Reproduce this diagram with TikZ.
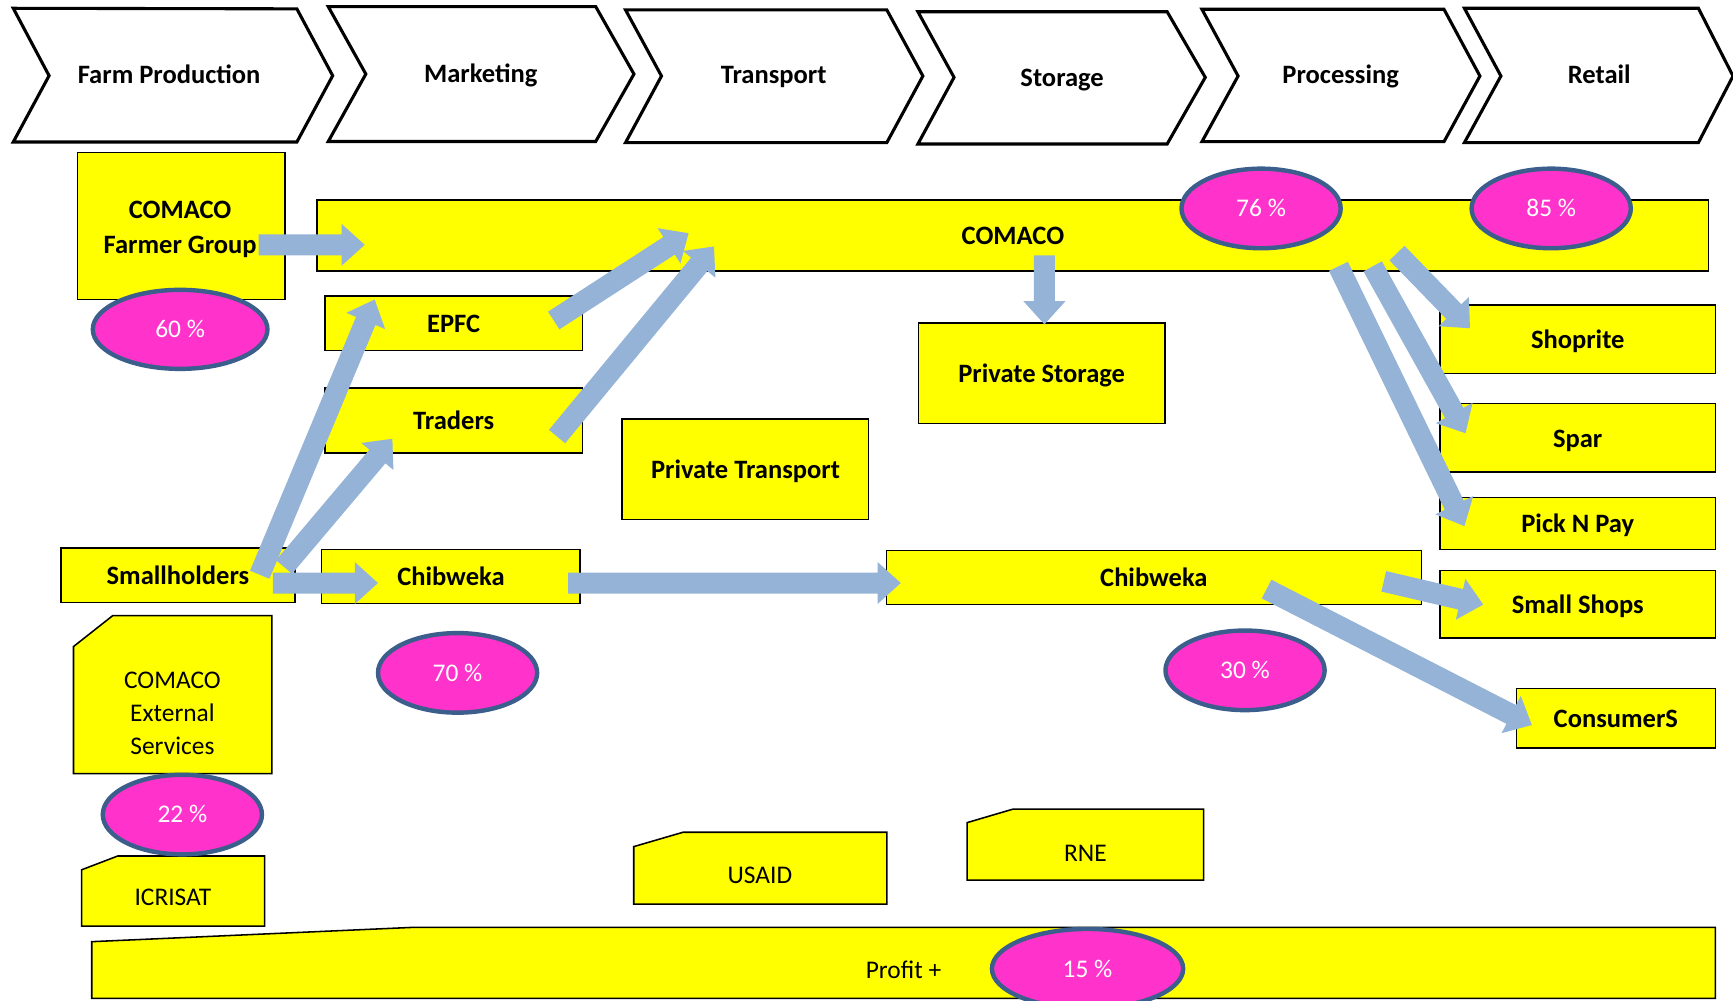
\documentclass[tikz,border=0pt]{standalone}
\usepackage{fontspec}
\setmainfont{Carlito}
\usetikzlibrary{calc,shapes.geometric}
\definecolor{boxyellow}{HTML}{FFFF00}
\definecolor{pctpink}{HTML}{FF33CC}
\definecolor{pctedge}{HTML}{3B5E8C}
\definecolor{flowblue}{HTML}{95B3D7}
\newcommand\bkShaft{9.5pt}
\newcommand\bkHead{19pt}
\newcommand\bkLen{21pt}
\newcommand\blockarrow[2]{%
  \path ($(#2)!\bkLen!(#1)$) coordinate (bkbase);
  \fill[flowarrow] ($(#1)!\bkShaft!90:(#2)$) -- ($(bkbase)!\bkShaft!90:(#2)$) -- ($(bkbase)!\bkHead!90:(#2)$) -- (#2) -- ($(bkbase)!\bkHead!-90:(#2)$) -- ($(bkbase)!\bkShaft!-90:(#2)$) -- ($(#1)!\bkShaft!-90:(#2)$) -- cycle;}
\tikzset{
  stage/.style={draw=black, line width=2.8pt, fill=white, line join=miter},
  stagelabel/.style={font=\fontsize{24}{28}\selectfont\bfseries, inner sep=0pt, text height=21pt, text depth=3pt},
  actor/.style={draw=black, line width=1.4pt, fill=boxyellow, inner sep=0pt, font=\fontsize{24}{31}\selectfont\bfseries, align=center, text height=20pt, text depth=3pt},
  snipbox/.style={draw=black, line width=1.4pt, fill=boxyellow, line join=miter},
  sniplabel/.style={font=\fontsize{23}{29.5}\selectfont, align=center, inner sep=0pt, text height=19pt, text depth=4pt},
  pct/.style={ellipse, draw=pctedge, line width=4pt, fill=pctpink, text=white, inner sep=0pt, font=\fontsize{23}{27}\selectfont, minimum width=144pt, minimum height=72pt, text height=19pt, text depth=4pt},
  flowarrow/.style={fill=flowblue},
}
\begin{document}
\begin{tikzpicture}[x=1pt,y=-1pt]
\useasboundingbox (0,0) rectangle (1568,905);
\clip (0,0) rectangle (1568,905);
\fill[white] (0,0) rectangle (1568,905);

% value chain stages
\draw[stage] (12,7.5) -- (268.6,8) -- (301,68.5) -- (268.6,128.5) -- (12,128.5) -- (44.4,68.5) -- cycle;
\node[stagelabel] (farm) at (153,67) {Farm Production};
\draw[stage] (297,6) -- (539,6) -- (573.6,67) -- (539,128) -- (297,128) -- (331,67) -- cycle;
\node[stagelabel] (mkt) at (435,66) {Marketing};
\draw[stage] (566,9) -- (802.4,9) -- (835,68.8) -- (802.4,129) -- (566,129) -- (598.5,68.8) -- cycle;
\node[stagelabel] (trans) at (700,67) {Transport};
\draw[stage] (830.5,10.6) -- (1056,10.6) -- (1090.5,70) -- (1056,130.3) -- (830.5,130.3) -- (863.2,70) -- cycle;
\node[stagelabel] (stor) at (961,69) {Storage};
\draw[stage] (1087.5,8.4) -- (1306.5,8.4) -- (1339,68.8) -- (1306.5,128.2) -- (1087.5,128.2) -- (1120.2,68.8) -- cycle;
\node[stagelabel] (proc) at (1213,67) {Processing};
\draw[stage] (1325,7.5) -- (1536.7,7.5) -- (1568,68.8) -- (1536.7,129) -- (1325,129) -- (1358,68.8) -- cycle;
\node[stagelabel] (ret) at (1447,67) {Retail};

% actors
\node[actor, minimum width=188pt, minimum height=133pt] (fg) at (164,204.5) {};
\node[font=\fontsize{24}{31}\selectfont\bfseries, align=center, inner sep=0pt] (fgtext) at (163,207.5) {COMACO\\Farmer Group};
\node[actor, minimum width=1259pt, minimum height=64pt] (comaco) at (916.5,213) {COMACO};
\node[actor, minimum width=233pt, minimum height=49pt] (epfc) at (410.5,292.5) {EPFC};
\node[actor, minimum width=233pt, minimum height=59pt] (traders) at (410.5,380.5) {Traders};
\node[actor, minimum width=223pt, minimum height=91pt] (ptrans) at (674.5,424.5) {Private Transport};
\node[actor, minimum width=223pt, minimum height=91pt] (pstor) at (942.5,337.5) {Private Storage};
\node[actor, minimum width=212pt, minimum height=49pt] (small) at (161,520.5) {Smallholders};
\node[actor, minimum width=234pt, minimum height=49pt] (chibA) at (408,521.5) {Chibweka};
\node[actor, minimum width=484pt, minimum height=49pt] (chibB) at (1044,522.5) {Chibweka};
\node[actor, minimum width=249pt, minimum height=62pt] (shoprite) at (1427.5,307) {Shoprite};
\node[actor, minimum width=249pt, minimum height=62pt] (spar) at (1427.5,396) {Spar};
\node[actor, minimum width=249pt, minimum height=47pt] (pnp) at (1427.5,473.5) {Pick N Pay};
\node[actor, minimum width=249pt, minimum height=61pt] (sshops) at (1427.5,546.5) {Small Shops};
\node[actor, minimum width=180pt, minimum height=54pt] (cons) at (1462,650) {ConsumerS};

% snipped-corner boxes
\draw[snipbox] (66.5,585) -- (102,557) -- (246,557) -- (246,700) -- (66.5,700) -- cycle;
\node[sniplabel, text height={}, text depth={}] (ext) at (156,645.5) {COMACO\\External\\Services};
\draw[snipbox] (73.8,787) -- (106.5,774.5) -- (239.5,774.5) -- (239.5,838) -- (73.8,838) -- cycle;
\node[sniplabel] (icrisat) at (156.5,812) {ICRISAT};
\draw[snipbox] (573.4,766) -- (618,753) -- (802.5,753) -- (802.5,818) -- (573.4,818) -- cycle;
\node[sniplabel] (usaid) at (687.5,791.5) {USAID};
\draw[snipbox] (875,744.3) -- (916.8,732) -- (1089,732) -- (1089,796.3) -- (875,796.3) -- cycle;
\node[sniplabel] (rne) at (982,772) {RNE};
\draw[snipbox] (83,852) -- (375,839) -- (1552,839) -- (1552,903.3) -- (83,903.3) -- cycle;
\node[sniplabel] (profit) at (817.5,877.5) {Profit +};

% flow arrows
\coordinate (fgA) at (234,221.5);   \coordinate (fgB) at (330,221.5);
\coordinate (epA) at (501,290);     \coordinate (epB) at (623,211);
\coordinate (trA) at (504,395);     \coordinate (trB) at (646,223);
\coordinate (shEA) at (235,520);    \coordinate (shEB) at (339,271);
\coordinate (shTA) at (257,513);    \coordinate (shTB) at (355,397);
\coordinate (shCA) at (247,527.5);  \coordinate (shCB) at (342,527.5);
\coordinate (chA) at (514,527.5);   \coordinate (chB) at (815,527.5);
\coordinate (psA) at (945,231);     \coordinate (psB) at (945,293.5);
\coordinate (spA) at (1264,229);    \coordinate (spB) at (1330,297);
\coordinate (saA) at (1242,241);    \coordinate (saB) at (1326,392);
\coordinate (pnA) at (1211,241);    \coordinate (pnB) at (1325,476);
\coordinate (ssA) at (1252,526);    \coordinate (ssB) at (1342,547);
\coordinate (coA) at (1146,533);    \coordinate (coB) at (1386,656);
\blockarrow{fgA}{fgB}
\blockarrow{epA}{epB}
\blockarrow{trA}{trB}
\blockarrow{shEA}{shEB}
\blockarrow{shTA}{shTB}
\blockarrow{shCA}{shCB}
\blockarrow{chA}{chB}
\blockarrow{psA}{psB}
\blockarrow{spA}{spB}
\blockarrow{saA}{saB}
\blockarrow{pnA}{pnB}
\blockarrow{ssA}{ssB}
\blockarrow{coA}{coB}

% percentages
\node[pct, minimum width=158pt, minimum height=71.5pt] (p60) at (163,298) {60 \%};
\node[pct] (p76) at (1141,188.6) {76 \%};
\node[pct] (p85) at (1403.5,188.6) {85 \%};
\node[pct] (p70) at (414,608.8) {70 \%};
\node[pct] (p30) at (1126.5,606.5) {30 \%};
\node[pct] (p22) at (165,737) {22 \%};
\node[pct, minimum width=173pt, minimum height=72pt] (p15) at (984,876.5) {15 \%};
\end{tikzpicture}
\end{document}
